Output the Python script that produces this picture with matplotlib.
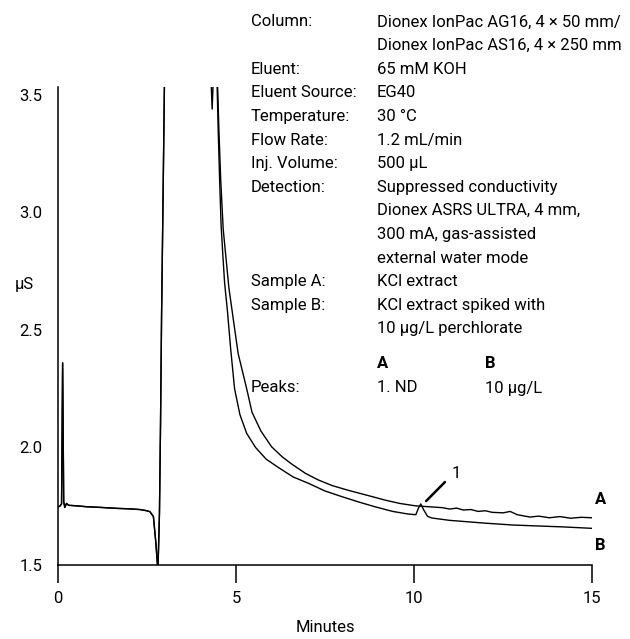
import matplotlib
matplotlib.use("Agg")
import matplotlib.pyplot as plt

# ---------------- data ----------------
# shared early part (both traces overlap)
early_t = [0.00, 0.05, 0.10, 0.13, 0.16, 0.19, 0.24, 0.30, 0.50, 0.80, 1.20, 1.65, 2.00, 2.30, 2.49,
           2.58, 2.68, 2.75, 2.79, 2.81, 2.85, 2.88, 2.91, 2.95, 2.99, 3.03, 3.50]
early_v = [1.748, 1.750, 1.760, 2.360, 1.770, 1.745, 1.762, 1.754, 1.752, 1.748, 1.745, 1.741, 1.739,
           1.736, 1.731, 1.727, 1.706, 1.593, 1.508, 1.490, 1.720, 2.100, 2.570, 3.050, 3.550, 4.100, 6.000]

# trace A (KCl extract)
tA = [4.30, 4.45, 4.47, 4.52, 4.57, 4.64, 4.71, 4.80, 4.92, 5.06, 5.30, 5.45, 5.70, 6.00, 6.30,
      6.56, 6.95, 7.31, 7.70, 8.15, 8.70, 9.19, 9.60, 10.03, 10.21, 10.50, 10.80, 11.00, 11.20, 11.38,
      11.60, 11.80, 12.00, 12.20, 12.51, 12.70, 12.90, 13.26, 13.50, 13.80, 14.10, 14.40, 14.70, 15.00]
vA = [6.000, 4.200, 3.600, 3.350, 3.140, 2.930, 2.820, 2.680, 2.550, 2.400, 2.250, 2.150, 2.070,
      2.003, 1.960, 1.930, 1.890, 1.862, 1.838, 1.818, 1.796, 1.776, 1.762, 1.752, 1.750, 1.747,
      1.744, 1.738, 1.742, 1.734, 1.736, 1.728, 1.731, 1.724, 1.722, 1.728, 1.714, 1.704, 1.708,
      1.701, 1.706, 1.699, 1.703, 1.701]

# trace B (KCl extract spiked with perchlorate)
tB = [4.20, 4.29, 4.33, 4.37, 4.41, 4.46, 4.50, 4.54, 4.58, 4.63, 4.68, 4.76, 4.85, 4.96, 5.11,
      5.30, 5.55, 5.85, 6.19, 6.60, 7.03, 7.50, 7.97, 8.45, 8.90, 9.40, 9.83, 10.05, 10.12, 10.19,
      10.27, 10.38, 10.50, 11.00, 12.00, 12.79, 13.50, 14.20, 15.00]
vB = [6.000, 3.600, 3.440, 3.600, 4.500, 3.600, 3.350, 3.140, 2.950, 2.820, 2.700, 2.580, 2.420,
      2.250, 2.140, 2.060, 2.000, 1.950, 1.915, 1.875, 1.848, 1.815, 1.791, 1.768, 1.748, 1.728,
      1.717, 1.714, 1.740, 1.760, 1.735, 1.707, 1.700, 1.690, 1.678, 1.670, 1.666, 1.662, 1.656]

x_ticks = [0, 5, 10, 15]
y_ticks = [1.5, 2.0, 2.5, 3.0, 3.5]
y_tick_labels = ["1.5", "2.0", "2.5", "3.0", "3.5"]

info_left = ["Column:", "", "Eluent:", "Eluent Source:", "Temperature:", "Flow Rate:", "Inj. Volume:",
             "Detection:", "", "", "", "Sample A:", "Sample B:", ""]
info_right = ["Dionex IonPac AG16, 4 \u00d7 50 mm/", "Dionex IonPac AS16, 4 \u00d7 250 mm", "65 mM KOH",
              "EG40", "30 \u00b0C", "1.2 mL/min", "500 \u00b5L", "Suppressed conductivity",
              "Dionex ASRS ULTRA, 4 mm,", "300 mA, gas-assisted", "external water mode",
              "KCl extract", "KCl extract spiked with", "10 \u00b5g/L perchlorate"]
peak_header = ["A", "B"]
peak_row = ["Peaks:", "1. ND", "10 \u00b5g/L"]

# ---------------- plot ----------------
FONT = ["Roboto", "DejaVu Sans"]
plt.rcParams["font.family"] = FONT
FS = 12

W, H = 630, 639
fig = plt.figure(figsize=(W / 100, H / 100), dpi=100)
ax = fig.add_axes([58 / W, 1 - 565 / H, (592 - 58) / W, (565 - 87) / H])

tA_full = early_t + tA
vA_full = early_v + vA
tB_full = early_t + tB
vB_full = early_v + vB
ax.plot(tA_full, vA_full, color="black", lw=1.0)
ax.plot(tB_full, vB_full, color="black", lw=1.0)

ax.set_xlim(0, 15)
ax.set_ylim(1.5, 3.534)
for s in ["top", "right"]:
    ax.spines[s].set_visible(False)
for s in ["left", "bottom"]:
    ax.spines[s].set_linewidth(1.1)
ax.set_xticks(x_ticks)
ax.set_xticklabels([str(v) for v in x_ticks], fontsize=FS)
ax.set_yticks(y_ticks)
ax.set_yticklabels(y_tick_labels, fontsize=FS)
ax.tick_params(axis="x", direction="out", length=13, width=1.1, pad=6)
ax.tick_params(axis="y", length=0, pad=11)

def px(x, y):
    return x / W, 1 - y / H

fig.text(*px(325, 628), "Minutes", ha="center", va="center", fontsize=FS)
fig.text(*px(24, 285), "\u00b5S", ha="center", va="center", fontsize=FS)

y0, dy = 22.0, 23.6
for i, (l, r) in enumerate(zip(info_left, info_right)):
    yy = y0 + i * dy
    if l:
        fig.text(*px(251, yy), l, ha="left", va="center", fontsize=FS)
    fig.text(*px(377, yy), r, ha="left", va="center", fontsize=FS)

fig.text(*px(377, 364), peak_header[0], ha="left", va="center", fontsize=FS, fontweight="bold")
fig.text(*px(485, 364), peak_header[1], ha="left", va="center", fontsize=FS, fontweight="bold")
fig.text(*px(251, 388), peak_row[0], ha="left", va="center", fontsize=FS)
fig.text(*px(377, 388), peak_row[1], ha="left", va="center", fontsize=FS)
fig.text(*px(485, 388), peak_row[2], ha="left", va="center", fontsize=FS)

# trace labels and peak annotation
ax.annotate("", xy=(10.34, 1.772), xytext=(10.87, 1.853),
            arrowprops=dict(arrowstyle="-", lw=1.8, color="black", shrinkA=0, shrinkB=0))
ax.text(11.2, 1.89, "1", fontsize=FS, ha="center", va="center")
fig.text(*px(595, 499), "A", ha="left", va="center", fontsize=FS, fontweight="bold")
fig.text(*px(595, 545), "B", ha="left", va="center", fontsize=FS, fontweight="bold")

fig.savefig("out.png", dpi=100)
